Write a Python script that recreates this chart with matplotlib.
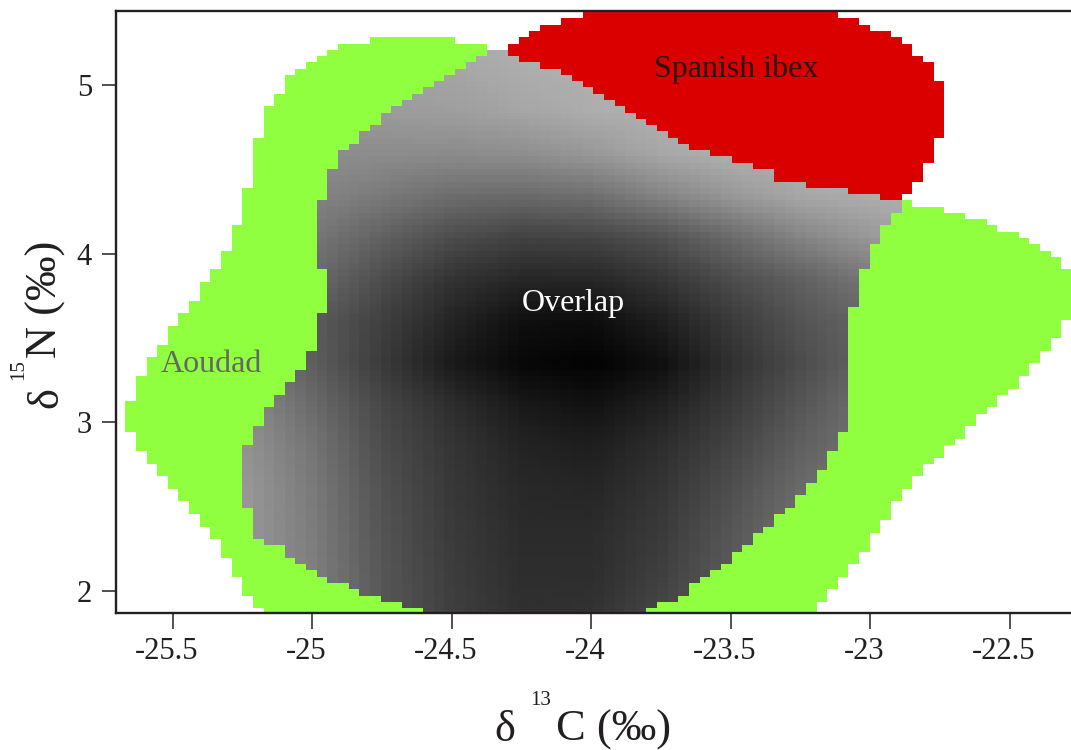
import numpy as np
import matplotlib
matplotlib.use("Agg")
import matplotlib.pyplot as plt
from matplotlib.path import Path
from matplotlib.transforms import ScaledTranslation

plt.rcParams["font.family"] = "Liberation Serif"
plt.rcParams["axes.unicode_minus"] = False

# Region outlines on the raster grid (d13C, d15N). Outlines are rectilinear:
# from vertex i the edge runs along d13C to x[i+1], then along d15N to y[i+1].
aoudad_x = [-24.796, -24.491, -24.377, -24.339, -23.082, -22.853, -22.739, -22.663, -22.586, -22.548,
            -22.472, -22.434, -22.396, -22.358, -22.320, -22.200, -22.320, -22.358, -22.396, -22.434,
            -22.472, -22.510, -22.548, -22.586, -22.625, -22.663, -22.701, -22.739, -22.777, -22.815,
            -22.853, -22.891, -22.929, -22.967, -23.005, -23.044, -23.082, -23.120, -23.158, -23.196,
            -25.177, -25.215, -25.253, -25.291, -25.329, -25.367, -25.405, -25.443, -25.481, -25.519,
            -25.557, -25.596, -25.634, -25.672, -25.634, -25.596, -25.557, -25.519, -25.481, -25.443,
            -25.405, -25.367, -25.329, -25.291, -25.253, -25.215, -25.177, -25.138, -25.100, -25.062,
            -25.024, -24.986, -24.948, -24.910]
aoudad_y = [5.286, 5.249, 5.212, 4.728, 4.319, 4.282, 4.244, 4.207, 4.170, 4.133,
            4.096, 4.058, 4.021, 3.984, 3.909, 3.612, 3.500, 3.426, 3.351, 3.277,
            3.202, 3.165, 3.091, 3.054, 2.979, 2.905, 2.868, 2.793, 2.756, 2.682,
            2.607, 2.533, 2.421, 2.347, 2.235, 2.161, 2.086, 2.012, 1.937, 1.800,
            1.900, 1.975, 2.086, 2.198, 2.309, 2.384, 2.458, 2.533, 2.607, 2.682,
            2.756, 2.830, 2.942, 3.128, 3.277, 3.389, 3.463, 3.575, 3.649, 3.723,
            3.835, 3.909, 4.021, 4.170, 4.393, 4.691, 4.877, 4.951, 5.063, 5.100,
            5.137, 5.175, 5.212, 5.249]

ibex_x = [-24.034, -23.120, -23.044, -23.005, -22.929, -22.891, -22.853, -22.815, -22.777, -22.739,
          -22.777, -22.815, -22.853, -22.891, -24.300, -24.262, -24.224, -24.186, -24.110]
ibex_y = [5.620, 5.398, 5.361, 5.323, 5.286, 5.249, 5.175, 5.137, 5.026, 4.691,
          4.542, 4.430, 4.356, 4.319, 5.249, 5.286, 5.323, 5.361, 5.398]

overlap_x = [-24.377, -24.300, -24.262, -24.186, -24.110, -24.072, -24.034, -23.996, -23.958, -23.920,
             -23.881, -23.843, -23.805, -23.767, -23.729, -23.691, -23.653, -23.577, -23.501, -23.424,
             -23.348, -23.234, -23.082, -22.967, -22.891, -22.929, -22.967, -23.005, -23.044, -23.082,
             -23.120, -23.158, -23.196, -23.234, -23.272, -23.310, -23.348, -23.386, -23.424, -23.462,
             -23.501, -23.539, -23.577, -23.615, -23.653, -23.691, -23.767, -23.805, -24.605, -24.681,
             -24.758, -24.834, -24.872, -24.948, -24.986, -25.024, -25.062, -25.100, -25.177, -25.215,
             -25.253, -25.215, -25.177, -25.138, -25.100, -25.062, -25.024, -24.986, -24.948, -24.986,
             -24.948, -24.910, -24.872, -24.834, -24.796, -24.758, -24.719, -24.681, -24.643, -24.605,
             -24.567, -24.529, -24.491, -24.453, -24.415]
overlap_y = [5.212, 5.175, 5.137, 5.100, 5.063, 5.026, 4.988, 4.951, 4.914, 4.877,
             4.840, 4.802, 4.765, 4.728, 4.691, 4.654, 4.616, 4.579, 4.542, 4.505,
             4.430, 4.393, 4.356, 4.319, 4.244, 4.170, 4.058, 3.909, 3.686, 2.942,
             2.830, 2.719, 2.644, 2.570, 2.496, 2.458, 2.384, 2.347, 2.272, 2.235,
             2.161, 2.123, 2.086, 2.049, 1.975, 1.937, 1.900, 1.800, 1.900, 1.937,
             1.975, 2.012, 2.049, 2.086, 2.123, 2.161, 2.198, 2.272, 2.309, 2.496,
             2.868, 2.979, 3.091, 3.165, 3.240, 3.314, 3.426, 3.649, 3.909, 4.319,
             4.505, 4.616, 4.654, 4.728, 4.765, 4.840, 4.877, 4.914, 4.951, 4.988,
             5.026, 5.063, 5.100, 5.137, 5.175]

# Overlap density as grey level (0 black, 1 white) on a coarse grid
shade_c = [-25.25, -25.0, -24.75, -24.5, -24.25, -24.0, -23.75, -23.5, -23.25, -23.0, -22.85]
shade_n = [1.85, 2.1, 2.35, 2.6, 2.85, 3.1, 3.35, 3.6, 3.85, 4.1, 4.35, 4.6, 4.85, 5.1, 5.25]
shade_grey = [
    [0.60, 0.50, 0.34, 0.25, 0.19, 0.20, 0.28, 0.40, 0.45, 0.45, 0.45],
    [0.60, 0.50, 0.34, 0.24, 0.18, 0.18, 0.25, 0.36, 0.45, 0.46, 0.46],
    [0.60, 0.49, 0.33, 0.23, 0.17, 0.17, 0.23, 0.34, 0.45, 0.50, 0.50],
    [0.60, 0.48, 0.32, 0.22, 0.16, 0.15, 0.21, 0.31, 0.42, 0.50, 0.50],
    [0.58, 0.46, 0.30, 0.21, 0.14, 0.12, 0.18, 0.27, 0.38, 0.46, 0.50],
    [0.55, 0.42, 0.28, 0.18, 0.10, 0.07, 0.13, 0.23, 0.34, 0.45, 0.48],
    [0.50, 0.37, 0.23, 0.10, 0.03, 0.01, 0.06, 0.19, 0.30, 0.40, 0.45],
    [0.48, 0.36, 0.25, 0.14, 0.06, 0.05, 0.12, 0.23, 0.33, 0.40, 0.47],
    [0.48, 0.42, 0.30, 0.20, 0.15, 0.15, 0.21, 0.30, 0.38, 0.47, 0.55],
    [0.50, 0.47, 0.38, 0.30, 0.26, 0.27, 0.32, 0.42, 0.52, 0.60, 0.64],
    [0.52, 0.52, 0.48, 0.43, 0.42, 0.44, 0.52, 0.60, 0.66, 0.68, 0.69],
    [0.55, 0.56, 0.55, 0.55, 0.56, 0.60, 0.66, 0.69, 0.69, 0.69, 0.69],
    [0.58, 0.60, 0.61, 0.62, 0.65, 0.68, 0.69, 0.69, 0.69, 0.69, 0.69],
    [0.62, 0.63, 0.64, 0.65, 0.68, 0.69, 0.69, 0.69, 0.69, 0.69, 0.69],
    [0.64, 0.65, 0.66, 0.67, 0.69, 0.69, 0.69, 0.69, 0.69, 0.69, 0.69],
]

x_ticks = [-25.5, -25, -24.5, -24, -23.5, -23, -22.5]
x_ticklabels = ["-25.5", "-25", "-24.5", "-24", "-23.5", "-23", "-22.5"]
y_ticks = [2, 3, 4, 5]

GREEN = "#90ff40"
RED = "#da0000"
INK = "#231f20"


def outline(xs, ys):
    verts = []
    n = len(xs)
    for i in range(n):
        verts.append((xs[i], ys[i]))
        verts.append((xs[(i + 1) % n], ys[i]))
    verts.append(verts[0])
    return Path(verts, closed=True)


# raster cells
dx, dy = 0.03809, 0.03721
x_edges = -22.853 + dx * np.arange(-76, 18)
y_edges = 4.3187 + dy * np.arange(-68, 35)
xc = 0.5 * (x_edges[:-1] + x_edges[1:])
yc = 0.5 * (y_edges[:-1] + y_edges[1:])
XX, YY = np.meshgrid(xc, yc)
pts = np.column_stack([XX.ravel(), YY.ravel()])

in_aoudad = outline(aoudad_x, aoudad_y).contains_points(pts).reshape(XX.shape)
in_ibex = outline(ibex_x, ibex_y).contains_points(pts).reshape(XX.shape)
in_overlap = outline(overlap_x, overlap_y).contains_points(pts).reshape(XX.shape)

# grey level per cell from the coarse density grid
sg = np.array(shade_grey)
rows = np.array([np.interp(xc, shade_c, r) for r in sg])
grey = np.array([np.interp(yc, shade_n, rows[:, i]) for i in range(len(xc))]).T

rgba = np.zeros(XX.shape + (4,))
rgba[in_aoudad] = matplotlib.colors.to_rgba(GREEN)
rgba[in_ibex] = matplotlib.colors.to_rgba(RED)
g = grey[in_overlap]
rgba[in_overlap] = np.column_stack([g, g, g, np.ones_like(g)])

W, H = 1071, 750
fig = plt.figure(figsize=(W / 100, H / 100), dpi=100)
ax = fig.add_axes([0.1080, 0.1833, 0.8920, 0.8024])

ax.imshow(rgba, origin="lower", interpolation="nearest", aspect="auto",
          extent=(x_edges[0], x_edges[-1], y_edges[0], y_edges[-1]))

ax.set_xlim(-25.705, -22.281)
ax.set_ylim(1.8706, 5.4421)

ax.text(-23.482, 5.096, "Spanish ibex", color="#2a1212", fontsize=23, ha="center", va="center")
ax.text(-24.063, 3.707, "Overlap", color="white", fontsize=23, ha="center", va="center")
ax.text(-25.362, 3.342, "Aoudad", color="#666666", fontsize=23, ha="center", va="center")

ax.set_xticks(x_ticks)
ax.set_xticklabels(x_ticklabels)
ax.set_yticks(y_ticks)
ax.tick_params(axis="x", length=11.5, width=1.1, pad=6, labelsize=22, colors=INK)
ax.tick_params(axis="y", length=10, width=1.1, pad=7, labelsize=22, colors=INK)
shift = ScaledTranslation(-6 / 100, 0, fig.dpi_scale_trans)
for lab in ax.get_xticklabels():
    lab.set_transform(lab.get_transform() + shift)
for side in ("left", "bottom", "top"):
    ax.spines[side].set_linewidth(1.7)
    ax.spines[side].set_color(INK)
ax.spines["right"].set_visible(False)


def fpos(px, py):
    return px / W, 1 - py / H


# axis titles: delta, small raised mass number, element and unit
lab = dict(color=INK, ha="left", va="baseline", rotation_mode="anchor")
fig.text(*fpos(494, 741), "δ", fontsize=32, **lab)
fig.text(*fpos(530, 705), "13", fontsize=15, **lab)
fig.text(*fpos(556, 741), "C (‰)", fontsize=32, **lab)

fig.text(*fpos(57, 408), "δ", fontsize=32, rotation=90, **lab)
fig.text(*fpos(23, 380), "15", fontsize=15, rotation=90, **lab)
fig.text(*fpos(57, 358), "N (‰)", fontsize=32, rotation=90, **lab)

fig.savefig("out.png", dpi=100)
